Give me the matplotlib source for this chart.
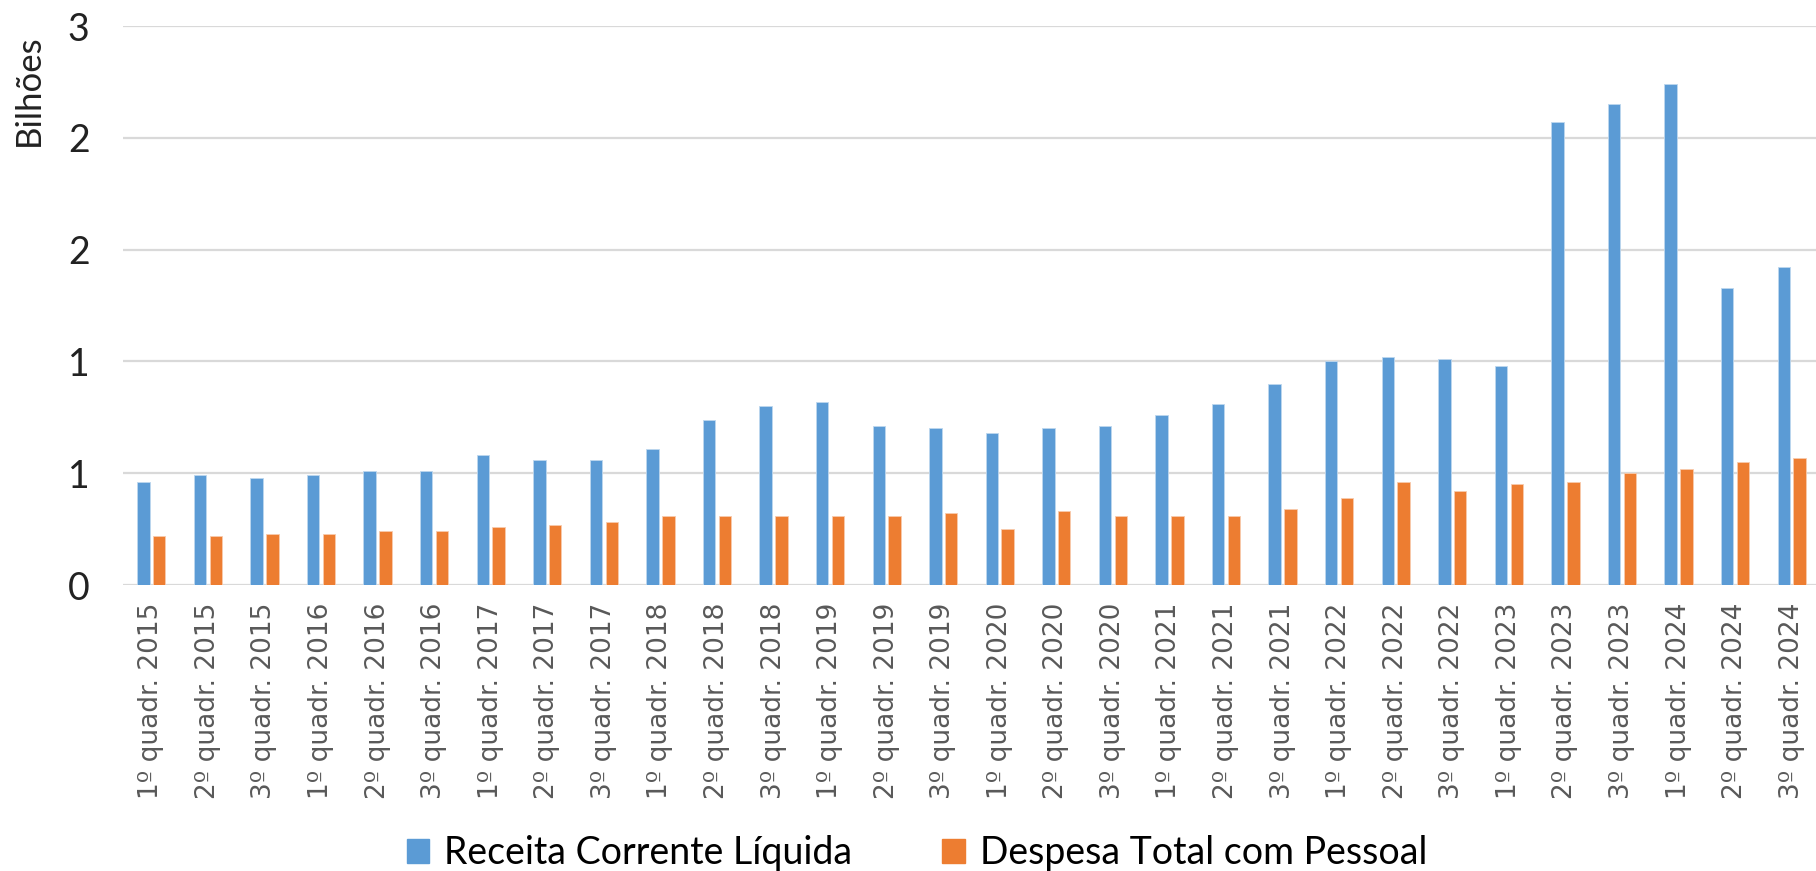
import matplotlib.pyplot as plt
from matplotlib.patches import Patch
import numpy as np

# -----------------------------
# Data (bilhões)
# -----------------------------
periods = [
    "1º quadr. 2015", "2º quadr. 2015", "3º quadr. 2015",
    "1º quadr. 2016", "2º quadr. 2016", "3º quadr. 2016",
    "1º quadr. 2017", "2º quadr. 2017", "3º quadr. 2017",
    "1º quadr. 2018", "2º quadr. 2018", "3º quadr. 2018",
    "1º quadr. 2019", "2º quadr. 2019", "3º quadr. 2019",
    "1º quadr. 2020", "2º quadr. 2020", "3º quadr. 2020",
    "1º quadr. 2021", "2º quadr. 2021", "3º quadr. 2021",
    "1º quadr. 2022", "2º quadr. 2022", "3º quadr. 2022",
    "1º quadr. 2023", "2º quadr. 2023", "3º quadr. 2023",
    "1º quadr. 2024", "2º quadr. 2024", "3º quadr. 2024",
]

receita = [
    0.46, 0.49, 0.48, 0.49, 0.51, 0.51, 0.58, 0.56, 0.56, 0.61,
    0.74, 0.80, 0.82, 0.71, 0.70, 0.68, 0.70, 0.71, 0.76, 0.81,
    0.90, 1.00, 1.02, 1.01, 0.98, 2.07, 2.15, 2.24, 1.33, 1.42,
]

despesa = [
    0.22, 0.22, 0.23, 0.23, 0.24, 0.24, 0.26, 0.27, 0.28, 0.31,
    0.31, 0.31, 0.31, 0.31, 0.32, 0.25, 0.33, 0.31, 0.31, 0.31,
    0.34, 0.39, 0.46, 0.42, 0.45, 0.46, 0.50, 0.52, 0.55, 0.57,
]

y_ticks = [0, 0.5, 1.0, 1.5, 2.0, 2.5]
y_tick_labels = ["0", "1", "1", "2", "2", "3"]

series_names = ["Receita Corrente Líquida", "Despesa Total com Pessoal"]

# -----------------------------
# Style
# -----------------------------
BLUE = "#5B9BD5"
ORANGE = "#ED7D31"
GRID = "#D9D9D9"
HUMANIST = "Lato"

fig = plt.figure(figsize=(18.16, 8.71), dpi=100)
ax = fig.add_axes([123 / 1816, 1 - 585 / 871, (1820 - 123) / 1816, (585 - 26) / 871])

x = np.arange(len(periods))
w = 0.22
off = 0.14
ax.bar(x - off, receita, width=w, color=BLUE, edgecolor="#BDD7EE", linewidth=0.6, zorder=3)
ax.bar(x + off, despesa, width=w, color=ORANGE, edgecolor="#F8CBAD", linewidth=0.6, zorder=3)

ax.set_xlim(-0.5, len(periods) - 0.5)
ax.set_ylim(0, 2.5)
ax.set_yticks(y_ticks)
ax.set_yticklabels(y_tick_labels, fontsize=27, color="#222222", family=HUMANIST)
ax.set_xticks(x)
ax.set_xticklabels(periods, rotation=90, fontsize=19, color="#595959")

ax.tick_params(axis="both", length=0)
ax.tick_params(axis="y", pad=24)
ax.tick_params(axis="x", pad=13)
for s in ax.spines.values():
    s.set_visible(False)
ax.grid(axis="y", color=GRID, linewidth=1.6, zorder=0)
ax.set_axisbelow(True)

fig.text(29 / 1816, 1 - 90 / 871, "Bilhões", rotation=90, fontsize=25,
         ha="center", va="center", color="#222222", family=HUMANIST)

handles = [Patch(color=BLUE), Patch(color=ORANGE)]
fig.legend(handles, series_names, loc="center", bbox_to_anchor=(917 / 1816, 1 - 853 / 871),
           ncol=2, frameon=False, handlelength=0.6, handleheight=0.6,
           handletextpad=0.4, columnspacing=2.4, prop={"family": HUMANIST, "size": 27})

fig.savefig("out.png", dpi=100)
